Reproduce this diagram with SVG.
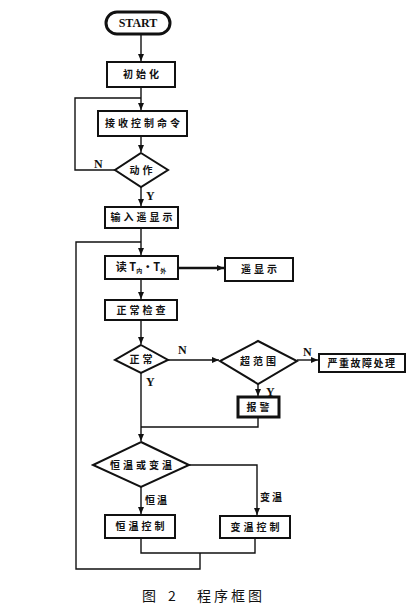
<svg xmlns="http://www.w3.org/2000/svg" width="419" height="607" viewBox="0 0 419 607">
<defs>
<marker id="arr" markerWidth="8" markerHeight="8" refX="7" refY="4" orient="auto" markerUnits="userSpaceOnUse">
<path d="M0,1 L7,4 L0,7 Z" fill="#111"/>
</marker>
<style>
.box{fill:#fff;stroke:#111;stroke-width:2}
.thick{fill:#fff;stroke:#111;stroke-width:3}
.ln{fill:none;stroke:#111;stroke-width:1.4}
.t{font-family:"Noto Sans CJK SC","Liberation Sans",sans-serif;font-size:10px;font-weight:bold;fill:#111;text-anchor:middle;letter-spacing:3px}
.lab{font-family:"Liberation Serif","Noto Sans CJK SC",serif;font-size:12px;font-weight:bold;fill:#111}
.labc{font-family:"Noto Sans CJK SC",sans-serif;font-size:10px;font-weight:bold;fill:#111;letter-spacing:2px}
.cap{font-family:"Noto Sans CJK SC",sans-serif;font-size:14px;fill:#111}
</style>
</defs>
<rect width="419" height="607" fill="#fff"/>
<g id="connectors">
<line class="ln" x1="141" y1="34" x2="141" y2="61" marker-end="url(#arr)"/>
<line class="ln" x1="141" y1="87" x2="141" y2="110" marker-end="url(#arr)"/>
<line class="ln" x1="141" y1="136" x2="141" y2="152" marker-end="url(#arr)"/>
<polyline class="ln" points="115,170 75,170 75,98 141,98"/>
<line class="ln" x1="141" y1="187" x2="141" y2="206" marker-end="url(#arr)"/>
<line class="ln" x1="141" y1="228" x2="141" y2="255" marker-end="url(#arr)"/>
<line class="ln" style="stroke-width:2.4" x1="178" y1="268" x2="224" y2="268" marker-end="url(#arr)"/>
<line class="ln" x1="141" y1="279" x2="141" y2="299" marker-end="url(#arr)"/>
<line class="ln" x1="141" y1="320" x2="141" y2="344" marker-end="url(#arr)"/>
<line class="ln" x1="168" y1="360" x2="219" y2="360" marker-end="url(#arr)"/>
<line class="ln" x1="297" y1="360" x2="318" y2="360" marker-end="url(#arr)"/>
<line class="ln" x1="258" y1="384" x2="258" y2="396" marker-end="url(#arr)"/>
<polyline class="ln" points="258,417 258,427 141,427"/>
<line class="ln" x1="141" y1="373" x2="141" y2="441" marker-end="url(#arr)"/>
<polyline class="ln" points="189,465 257,465 257,515" marker-end="url(#arr)"/>
<line class="ln" x1="141" y1="487" x2="141" y2="514" marker-end="url(#arr)"/>
<polyline class="ln" points="141,538 141,553 255,553 255,538"/>
<polyline class="ln" points="200,553 200,569 76,569 76,242 141,242"/>
<text class="lab" x="94" y="168">N</text>
<text class="lab" x="146" y="200">Y</text>
<text class="lab" x="178" y="354">N</text>
<text class="lab" x="146" y="386">Y</text>
<text class="lab" x="303" y="356">N</text>
<text class="lab" x="266" y="396">Y</text>
<text class="labc" x="145" y="504">恒温</text>
<text class="labc" x="260" y="501">变温</text>
</g>
<g id="start">
<rect class="thick" x="106" y="12" width="64" height="22" rx="11"/>
<text x="138" y="27" style="font-family:'Liberation Serif',serif;font-size:12px;font-weight:bold;fill:#111;text-anchor:middle">START</text>
</g>
<g id="init">
<rect class="box" x="107" y="62" width="68" height="25"/>
<text class="t" x="142.5" y="78">初始化</text>
</g>
<g id="receive">
<rect class="box" x="98" y="111" width="89" height="25"/>
<text class="t" x="144" y="127">接收控制命令</text>
</g>
<g id="action">
<polygon class="box" points="141,153 168,170 141,187 115,170"/>
<text class="t" x="142.5" y="174">动作</text>
</g>
<g id="input">
<rect class="box" x="105" y="207" width="73" height="21"/>
<text class="t" x="143" y="221">输入遥显示</text>
</g>
<g id="read">
<rect class="box" x="105" y="256" width="73" height="23"/>
<text x="141" y="271" style="font-family:'Noto Sans CJK SC','Liberation Serif',sans-serif;font-size:11px;font-weight:bold;fill:#111;text-anchor:middle">读 T<tspan font-size="6" dy="2">内</tspan><tspan dy="-2">·T</tspan><tspan font-size="6" dy="2">外</tspan></text>
</g>
<g id="remote">
<rect class="box" x="225" y="258" width="68" height="23"/>
<text class="t" x="260.5" y="273">遥显示</text>
</g>
<g id="check">
<rect class="box" x="105" y="300" width="72" height="20"/>
<text class="t" x="142.5" y="314">正常检查</text>
</g>
<g id="normal">
<polygon class="box" points="141,345 168,360 141,373 115,360"/>
<text class="t" x="142.5" y="363">正常</text>
</g>
<g id="range">
<polygon class="box" points="258,341 297,361 258,384 220,361"/>
<text class="t" x="259.5" y="365">超范围</text>
</g>
<g id="fault">
<rect class="box" x="319" y="354" width="86" height="18"/>
<text x="362" y="367" style="font-family:'Noto Sans CJK SC',sans-serif;font-size:10px;font-weight:bold;fill:#111;text-anchor:middle;letter-spacing:1.5px">严重故障处理</text>
</g>
<g id="alarm">
<rect class="thick" x="238" y="397" width="41" height="20"/>
<text class="t" x="259.5" y="411">报警</text>
</g>
<g id="mode">
<polygon class="box" points="141,442 189,465 141,487 93,465"/>
<text class="t" x="142.5" y="469">恒温或变温</text>
</g>
<g id="const">
<rect class="box" x="105" y="515" width="70" height="23"/>
<text class="t" x="141.5" y="530">恒温控制</text>
</g>
<g id="var">
<rect class="box" x="220" y="516" width="70" height="22"/>
<text class="t" x="256.5" y="531">变温控制</text>
</g>
<text class="cap" x="142" y="601">图</text>
<text class="cap" x="168" y="601">2</text>
<text class="cap" x="197" y="601" style="letter-spacing:3px">程序框图</text>
</svg>
